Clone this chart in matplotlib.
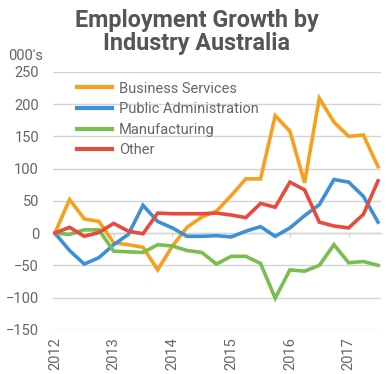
import matplotlib
matplotlib.use("Agg")
import matplotlib.pyplot as plt

# quarterly, 2012 Q1 .. 2017 Q3
quarters = [2012 + i * 0.25 for i in range(23)]
business = [0, 52, 22, 18, -15, -18, -22, -57, -20, 9, 25, 34, 58, 84, 84, 182,
            158, 78, 209, 172, 150, 152, 103]
public_admin = [0, -27, -48, -38, -18, -2, 43, 18, 8, -5, -5, -4, -6, 3, 10, -5,
                8, 27, 44, 83, 79, 57, 17]
manufacturing = [0, -2, 5, 5, -28, -29, -30, -18, -20, -27, -30, -48, -36, -36, -47, -101,
                 -57, -59, -50, -18, -46, -44, -50]
other = [0, 9, -5, 1, 15, 3, -1, 31, 30, 30, 30, 31, 28, 24, 46, 40,
         79, 67, 17, 11, 8, 29, 81]
years = [2012, 2013, 2014, 2015, 2016, 2017]

plt.rcParams['font.family'] = ['Roboto', 'DejaVu Sans']

fig = plt.figure(figsize=(3.86, 3.74), dpi=100)
ax = fig.add_axes([0.137, 0.118, 0.850, 0.690])

series = [
    ("Business Services", business, '#F6A01C'),
    ("Public Administration", public_admin, '#3E8FD6'),
    ("Manufacturing", manufacturing, '#78BE50'),
    ("Other", other, '#E64B3B'),
]
for name, vals, col in series:
    ax.plot(quarters, vals, color=col, lw=2.6, label=name, solid_joinstyle='miter')

ax.set_ylim(-150, 250)
ax.set_xlim(2011.966, 2017.55)
ax.set_yticks(range(-150, 251, 50))
ax.grid(axis='y', color='#d4d4d4', lw=1)
ax.set_axisbelow(True)
ax.set_xticks(years)
ax.set_xticklabels([str(y) for y in years], rotation=90)
ax.tick_params(axis='both', length=0, colors='#666666', labelsize=10.5)
ax.tick_params(axis='y', pad=10)
ax.tick_params(axis='x', pad=5)
for s in ax.spines.values():
    s.set_visible(False)

# category axis line at zero
sec = ax.secondary_xaxis(150 / 400)
sec.set_xticks(years)
sec.set_xticklabels([])
sec.tick_params(axis='x', direction='out', length=3, color='#cccccc')
sec.spines['bottom'].set_color('#d4d4d4')
sec.spines['bottom'].set_linewidth(1)

leg = ax.legend(loc='upper left', bbox_to_anchor=(0.055, 0.985), frameon=False,
                fontsize=10.5, handlelength=2.4, handletextpad=0.5,
                labelspacing=0.45, borderaxespad=0)
for t in leg.get_texts():
    t.set_color('#666666')
for h in leg.get_lines():
    h.set_linewidth(3)

fig.text(0.51, 0.976, "Employment Growth by\nIndustry Australia", ha='center', va='top',
         fontsize=16.8, fontweight='bold', color='#555555', linespacing=0.98)
fig.text(0.02, 0.85, "000's", ha='left', va='center', fontsize=10.5, color='#666666')

fig.savefig("out.png", dpi=100)
